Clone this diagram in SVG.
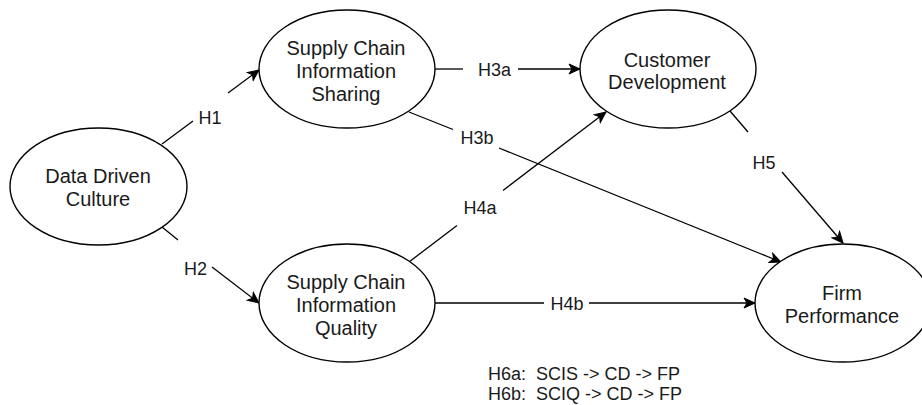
<svg xmlns="http://www.w3.org/2000/svg" width="922" height="405" viewBox="0 0 922 405">
<defs>
<style>
.node ellipse{fill:#fff;stroke:#000;stroke-width:1.4}
.node text{font-family:"Liberation Sans",Arial,sans-serif;font-size:20px;fill:#1a1a1a;text-anchor:middle}
.edges line{stroke:#000;stroke-width:1.3;fill:none}
.lbl{font-family:"Liberation Sans",Arial,sans-serif;font-size:18px;fill:#1a1a1a;text-anchor:middle}
.note{font-family:"Liberation Sans",Arial,sans-serif;font-size:18px;fill:#1a1a1a;white-space:pre}
</style>
<marker id="arr" viewBox="-12 -6 13 12" refX="0" refY="0" markerWidth="13" markerHeight="12" markerUnits="userSpaceOnUse" orient="auto">
<path d="M0,0 L-11,-5 L-8,0 L-11,5 Z" fill="#000" stroke="#000" stroke-width="1"/>
</marker>
</defs>
<rect width="922" height="405" fill="#fff"/>
<g id="edges" class="edges">
<g id="e-h1"><line x1="162" y1="144" x2="193" y2="121"/><line x1="228" y1="93" x2="259" y2="70" marker-end="url(#arr)"/><text class="lbl" x="210" y="123.5">H1</text></g>
<g id="e-h2"><line x1="162" y1="227" x2="178" y2="240"/><line x1="212" y1="267" x2="259" y2="303" marker-end="url(#arr)"/><text class="lbl" x="195.5" y="274.5">H2</text></g>
<g id="e-h3a"><line x1="435" y1="69" x2="463" y2="69"/><line x1="518" y1="69" x2="580" y2="69" marker-end="url(#arr)"/><text class="lbl" x="494.5" y="75.5">H3a</text></g>
<g id="e-h3b"><line x1="409" y1="112" x2="453" y2="129.5"/><line x1="499" y1="148" x2="781" y2="262" marker-end="url(#arr)"/><text class="lbl" x="477" y="143.5">H3b</text></g>
<g id="e-h4a"><line x1="409" y1="262" x2="457" y2="225.5"/><line x1="503" y1="190.5" x2="606" y2="112" marker-end="url(#arr)"/><text class="lbl" x="480" y="213.5">H4a</text></g>
<g id="e-h4b"><line x1="435" y1="303" x2="544" y2="303"/><line x1="589" y1="303" x2="755" y2="303" marker-end="url(#arr)"/><text class="lbl" x="567" y="309.5">H4b</text></g>
<g id="e-h5"><line x1="730" y1="111" x2="748" y2="132"/><line x1="782" y1="172" x2="843" y2="243" marker-end="url(#arr)"/><text class="lbl" x="764" y="168.5">H5</text></g>
</g>
<g id="n-ddc" class="node"><ellipse cx="98.5" cy="186.5" rx="88.5" ry="58.5"/><text x="98" y="183">Data Driven</text><text x="98" y="206">Culture</text></g>
<g id="n-scis" class="node"><ellipse cx="347" cy="69" rx="88" ry="59"/><text x="346" y="55">Supply Chain</text><text x="346" y="78">Information</text><text x="346" y="101">Sharing</text></g>
<g id="n-sciq" class="node"><ellipse cx="347" cy="303" rx="88" ry="59"/><text x="346" y="289">Supply Chain</text><text x="346" y="312">Information</text><text x="346" y="335">Quality</text></g>
<g id="n-cd" class="node"><ellipse cx="668" cy="69" rx="88" ry="59"/><text x="667" y="67">Customer</text><text x="667" y="89">Development</text></g>
<g id="n-fp" class="node"><ellipse cx="843" cy="303" rx="88" ry="59"/><text x="842" y="300">Firm</text><text x="842" y="323">Performance</text></g>
<g id="notes"><text class="note" x="488" y="379.5">H6a:  SCIS -&gt; CD -&gt; FP</text><text class="note" x="488" y="399.5">H6b:  SCIQ -&gt; CD -&gt; FP</text></g>
</svg>
